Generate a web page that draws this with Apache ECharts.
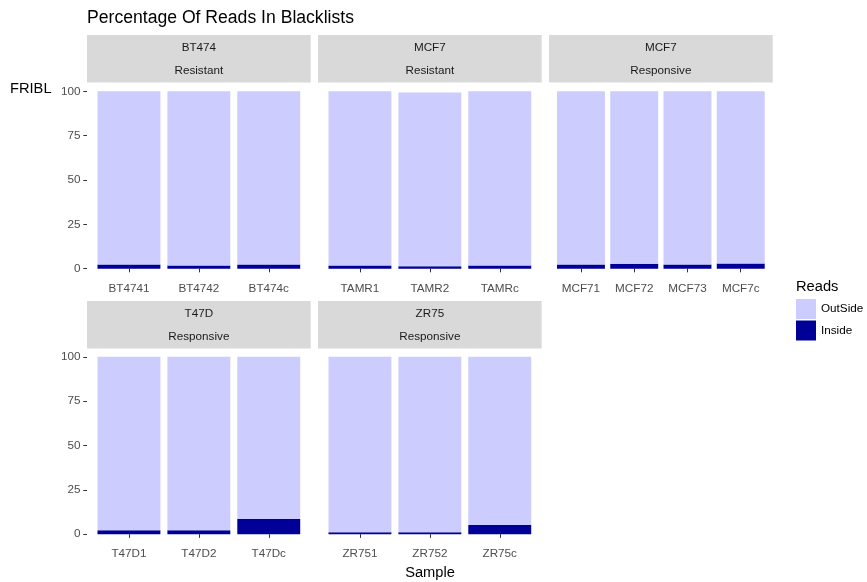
<!DOCTYPE html>
<html>
<head>
<meta charset="utf-8">
<script src="https://cdn.jsdelivr.net/npm/echarts@6/dist/echarts.min.js"></script>
<style>html,body{margin:0;padding:0;background:#fff}#c{width:867px;height:582px}</style>
</head>
<body>
<div id="c"></div>
<script>
const facetCell = ['BT474', 'MCF7', 'MCF7', 'T47D', 'ZR75'];
const facetCond = ['Resistant', 'Resistant', 'Responsive', 'Responsive', 'Responsive'];
const samples = [
  ['BT4741', 'BT4742', 'BT474c'],
  ['TAMR1', 'TAMR2', 'TAMRc'],
  ['MCF71', 'MCF72', 'MCF73', 'MCF7c'],
  ['T47D1', 'T47D2', 'T47Dc'],
  ['ZR751', 'ZR752', 'ZR75c']
];
const inside = [
  [2.3, 1.7, 2.3],
  [1.7, 1.3, 1.7],
  [2.3, 2.8, 2.3, 2.9],
  [2.2, 2.2, 8.6],
  [1.1, 1.1, 5.1]
];
const outside = [
  [97.7, 98.3, 97.7],
  [98.3, 98.1, 98.3],
  [97.7, 97.2, 97.7, 97.1],
  [97.8, 97.8, 91.4],
  [98.9, 98.9, 94.9]
];
const yTicks = [0, 25, 50, 75, 100];
const seriesNames = ['OutSide', 'Inside'];
const colors = { OutSide: '#CCCCFF', Inside: '#000099' };
const titleText = 'Percentage Of Reads In Blacklists';
const yTitle = 'FRIBL';
const xTitle = 'Sample';
const legendTitle = 'Reads';

const FONT = '"Liberation Sans", Arial, Helvetica, sans-serif';
const PW = 223.7;
const panelLeft = [87, 318, 549, 87, 318];
const panelTop = [82.5, 82.5, 82.5, 348, 348];
const panelH = 195;
const stripTop = [35, 35, 35, 301, 301];
const stripH = 47.5;
const leftCol = [true, false, false, true, false];

const grids = [], xAxes = [], yAxes = [], series = [], graphics = [];
samples.forEach((cats, i) => {
  const n = cats.length;
  const band = PW / (n + 0.2);
  grids.push({ left: panelLeft[i] + 0.1 * band, top: panelTop[i], width: n * band, height: panelH });
  xAxes.push({
    type: 'category', gridIndex: i, data: cats,
    axisLine: { show: false },
    axisTick: { show: true, alignWithLabel: true, interval: 0, length: 3.7, lineStyle: { color: '#333333', width: 1 } },
    axisLabel: { interval: 0, color: '#4D4D4D', fontSize: 11.7, fontFamily: FONT, margin: 5 },
    splitLine: { show: false }
  });
  yAxes.push({
    type: 'value', gridIndex: i, min: -5, max: 105, show: leftCol[i],
    offset: 0.1 * band,
    axisLine: { show: false },
    axisTick: { show: true, length: 3.7, customValues: yTicks, lineStyle: { color: '#333333', width: 1 } },
    axisLabel: { customValues: yTicks, color: '#4D4D4D', fontSize: 11.7, fontFamily: FONT, margin: 6.5 },
    splitLine: { show: false }
  });
  series.push({
    name: 'Inside', type: 'bar', stack: 's' + i, xAxisIndex: i, yAxisIndex: i,
    barWidth: 0.9 * band, data: inside[i], itemStyle: { color: colors.Inside }
  });
  series.push({
    name: 'OutSide', type: 'bar', stack: 's' + i, xAxisIndex: i, yAxisIndex: i,
    barWidth: 0.9 * band, data: outside[i], itemStyle: { color: colors.OutSide }
  });
  graphics.push({ type: 'rect', shape: { x: panelLeft[i], y: stripTop[i], width: PW, height: stripH }, style: { fill: '#D9D9D9' }, silent: true });
  graphics.push({ type: 'text', x: panelLeft[i] + PW / 2, y: stripTop[i] + 12.5, style: { text: facetCell[i], fill: '#1A1A1A', font: '11.7px ' + FONT, textAlign: 'center', textVerticalAlign: 'middle' } });
  graphics.push({ type: 'text', x: panelLeft[i] + PW / 2, y: stripTop[i] + 35.5, style: { text: facetCond[i], fill: '#1A1A1A', font: '11.7px ' + FONT, textAlign: 'center', textVerticalAlign: 'middle' } });
});

graphics.push({ type: 'text', x: 87, y: 18, style: { text: titleText, fill: '#000', font: '17.6px ' + FONT, textAlign: 'left', textVerticalAlign: 'middle' } });
graphics.push({ type: 'text', x: 10, y: 89, style: { text: yTitle, fill: '#000', font: '14.67px ' + FONT, textAlign: 'left', textVerticalAlign: 'middle' } });
graphics.push({ type: 'text', x: 430, y: 573, style: { text: xTitle, fill: '#000', font: '14.67px ' + FONT, textAlign: 'center', textVerticalAlign: 'middle' } });
graphics.push({ type: 'text', x: 796, y: 287, style: { text: legendTitle, fill: '#000', font: '14.67px ' + FONT, textAlign: 'left', textVerticalAlign: 'middle' } });

const chart = echarts.init(document.getElementById('c'), null, { renderer: 'canvas' });
chart.setOption({
  animation: false,
  backgroundColor: '#fff',
  grid: grids, xAxis: xAxes, yAxis: yAxes, series: series,
  legend: {
    data: seriesNames, orient: 'vertical', left: 796, top: 299, itemWidth: 20, itemHeight: 20, itemGap: 1.5,
    icon: 'rect', selectedMode: false, padding: 0,
    textStyle: { fontSize: 11.7, fontFamily: FONT, color: '#000' }
  },
  graphic: graphics
});
</script>
</body>
</html>
